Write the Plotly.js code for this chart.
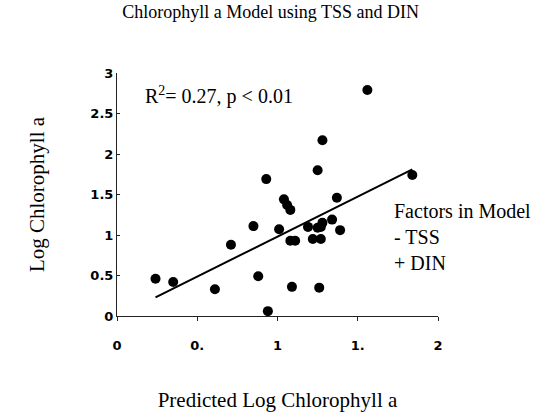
<!DOCTYPE html>
<html>
<head>
<meta charset="utf-8">
<script src="https://cdn.plot.ly/plotly-3.0.1.min.js"></script>
<style>
  html, body { margin: 0; padding: 0; background: #fff; }
  #chart { width: 538px; height: 419px; }
</style>
</head>
<body>
<div id="chart"></div>
<script>
const predicted = [0.24, 0.35, 0.61, 0.71, 0.88, 0.85, 0.93, 0.94, 1.01, 1.04, 1.06, 1.08,
                   1.08, 1.11, 1.19, 1.22, 1.25, 1.27, 1.28, 1.27, 1.34, 1.37, 1.39, 1.84,
                   1.09, 1.26, 1.56, 1.28, 1.25];
const observed  = [0.46, 0.42, 0.33, 0.88, 0.49, 1.11, 1.69, 0.06, 1.07, 1.44, 1.37, 1.31,
                   0.93, 0.93, 1.10, 0.95, 1.09, 1.10, 1.15, 0.95, 1.19, 1.46, 1.06, 1.74,
                   0.36, 0.35, 2.79, 2.17, 1.80];
// Regression line endpoints
const fitX = [0.24, 1.84];
const fitY = [0.23, 1.81];
// Tick labels
const xTickVals = [0, 0.5, 1, 1.5, 2];
const xTickText = ["0", "0.", "1", "1.", "2"];
const yTickVals = [0, 0.5, 1, 1.5, 2, 2.5, 3];
const yTickText = ["0", "0.5", "1", "1.5", "2", "2.5", "3"];

const serif = "Liberation Serif, Times New Roman, serif";
const sans = "DejaVu Sans, Arial, sans-serif";

const traces = [
  {
    x: fitX, y: fitY, mode: "lines", type: "scatter",
    line: { color: "#000", width: 2 }, hoverinfo: "skip", showlegend: false
  },
  {
    x: predicted, y: observed, mode: "markers", type: "scatter",
    marker: { color: "#000", size: 10, symbol: "circle" }, showlegend: false
  }
];

const layout = {
  width: 538, height: 419,
  margin: { l: 117, r: 100, t: 73, b: 103 },
  paper_bgcolor: "#fff", plot_bgcolor: "#fff",
  showlegend: false,
  title: {
    text: "Chlorophyll a Model using TSS and DIN",
    font: { family: serif, size: 18, color: "#000" },
    x: 0.503, xanchor: "center", y: 0.972, yanchor: "middle"
  },
  xaxis: {
    range: [0, 2], tickvals: xTickVals, ticktext: xTickText,
    showgrid: false, zeroline: false, showline: true, linecolor: "#222", linewidth: 1,
    ticks: "outside", ticklen: 4, tickcolor: "#222",
    ticklabelstandoff: 13,
    tickfont: { family: sans, size: 13, color: "#000", weight: "bold" },
    title: { text: "Predicted Log Chlorophyll a", font: { family: serif, size: 21, color: "#000" }, standoff: 40 }
  },
  yaxis: {
    range: [0, 3], tickvals: yTickVals, ticktext: yTickText,
    showgrid: false, zeroline: false, showline: true, linecolor: "#222", linewidth: 1,
    ticks: "inside", ticklen: 3, tickcolor: "#222",
    tickfont: { family: sans, size: 13, color: "#000", weight: "bold" },
    title: { text: "Log Chlorophyll a", font: { family: serif, size: 21, color: "#000" }, standoff: 40 }
  },
  annotations: [
    {
      text: "R<sup>2</sup>= 0.27, p &lt; 0.01",
      xref: "paper", yref: "paper", x: 0.08, y: 0.909, xanchor: "left", yanchor: "middle",
      showarrow: false, font: { family: serif, size: 20, color: "#000" }
    },
    {
      text: "Factors in Model<br>- TSS<br>+ DIN",
      xref: "paper", yref: "paper", x: 0.857, y: 0.325, xanchor: "left", yanchor: "middle",
      align: "left", showarrow: false, font: { family: serif, size: 20, color: "#000" }
    }
  ]
};

Plotly.newPlot("chart", traces, layout, { displayModeBar: false, staticPlot: true });
</script>
</body>
</html>
